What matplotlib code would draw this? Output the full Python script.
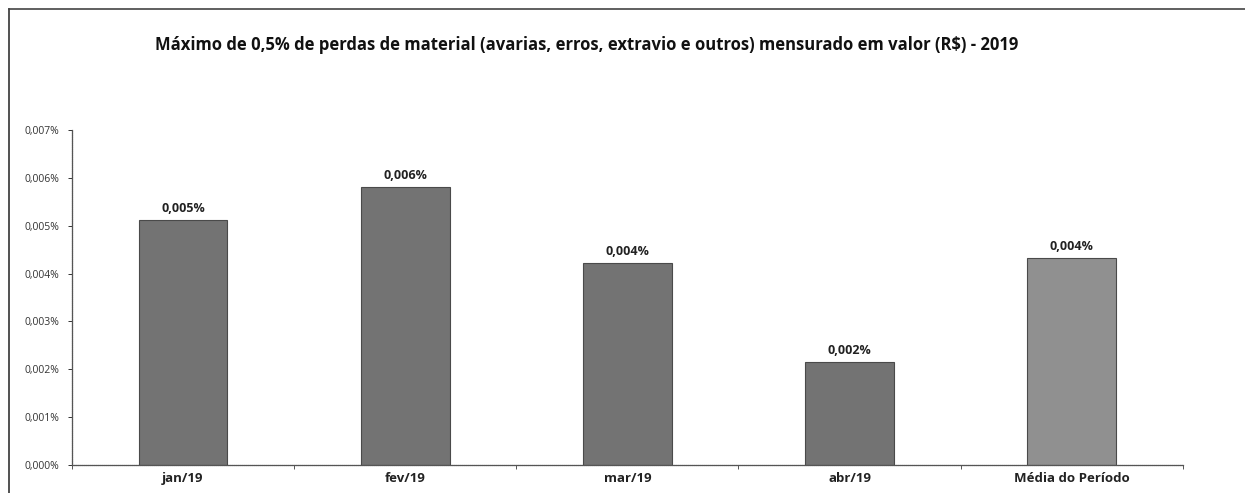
import numpy as np
import matplotlib
matplotlib.use('Agg')
import matplotlib.pyplot as plt
from matplotlib.lines import Line2D
from matplotlib.ticker import FuncFormatter

# data (values in %)
categorias = ['jan/19', 'fev/19', 'mar/19', 'abr/19', 'Média do Período']
perdas = [0.00511, 0.00580, 0.00422, 0.00215, 0.00432]
cores = ['#737373', '#737373', '#737373', '#737373', '#909090']
titulo = 'Máximo de 0,5% de perdas de material (avarias, erros, extravio e outros) mensurado em valor (R$) - 2019'

plt.rcParams['font.family'] = ['Open Sans', 'DejaVu Sans']

fig = plt.figure(figsize=(12.45, 4.93), dpi=100)
ax = fig.add_axes([0.0578, 0.0568, 0.8922, 0.6795])

x = np.arange(len(categorias))
bars = ax.bar(x, perdas, width=0.4, color=cores, edgecolor='#4a4a4a', linewidth=0.8)

for b, v in zip(bars, perdas):
    ax.text(b.get_x() + b.get_width() / 2, v + 0.00011, ('%.3f%%' % v).replace('.', ','),
            ha='center', va='bottom', fontsize=9, fontweight='bold', color='#222222')

ax.set_xlim(-0.5, len(categorias) - 0.5)
ax.set_ylim(0, 0.007)
ax.set_yticks(np.arange(0, 0.0071, 0.001))
ax.yaxis.set_major_formatter(FuncFormatter(lambda v, p: ('%.3f%%' % v).replace('.', ',')))
ax.tick_params(axis='y', labelsize=7.5, length=3, width=0.7, colors='#333333', pad=6)
ax.set_xticks(x)
ax.set_xticklabels(categorias, fontsize=9.5, fontweight='bold', color='#222222')
ax.set_xticks(np.arange(-0.5, len(categorias), 1), minor=True)
ax.tick_params(axis='x', which='major', length=0, pad=5)
ax.tick_params(axis='x', which='minor', length=3, width=0.7, colors='#555555')

for s in ['top', 'right']:
    ax.spines[s].set_visible(False)
for s in ['left', 'bottom']:
    ax.spines[s].set_linestyle((0, (1, 0.6)))
    ax.spines[s].set_color('#555555')
    ax.spines[s].set_linewidth(0.9)

fig.text(0.4715, 0.908, titulo, ha='center', va='center', fontsize=12, fontweight='bold', color='#111111')

# scanned page frame (left and top edges)
fig.add_artist(Line2D([0.0072, 0.0072], [0, 0.982], transform=fig.transFigure, color='#333333', linewidth=1.2))
fig.add_artist(Line2D([0.0072, 1.0], [0.982, 0.982], transform=fig.transFigure, color='#444444', linewidth=1.2))

fig.savefig('out.png', dpi=100)
